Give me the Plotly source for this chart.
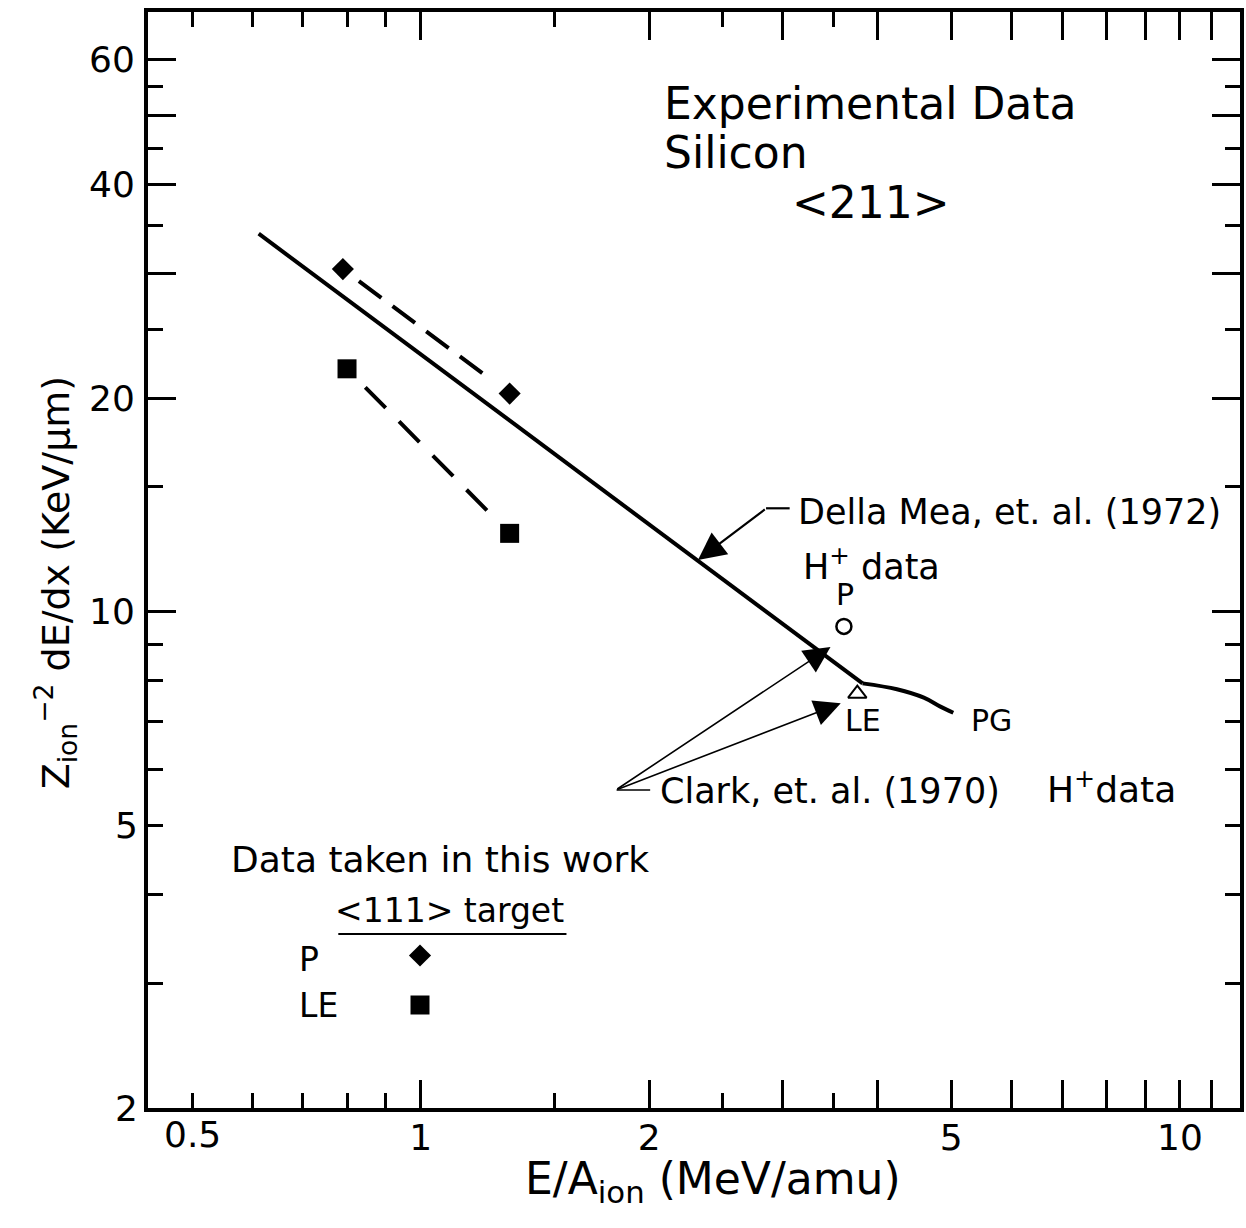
import numpy as np
import plotly.graph_objects as go

# ---- data -------------------------------------------------------------
# Della Mea et al. (1972) H+ stopping curve, <211> silicon
curve_energy = [0.612, 3.82, 4.24, 4.60, 4.83, 5.03]
curve_stopping = [34.1, 7.93, 7.78, 7.57, 7.36, 7.21]

# this work, <111> target
p_energy = [0.79, 1.31]
p_stopping = [30.4, 20.3]
le_energy = [0.80, 1.31]
le_stopping = [22.0, 12.9]

# Clark et al. (1970) H+ data
clark_p_energy = [3.61]
clark_p_stopping = [9.54]
clark_le_energy = [3.76]
clark_le_stopping = [7.67]

# axes
x_major = [1, 2, 3, 4, 5, 6, 7, 8, 9, 10, 11]
x_major_text = ["1", "2", "", "", "5", "", "", "", "", "10", ""]
x_minor = [0.5, 0.6, 0.7, 0.8, 0.9, 1.5, 2.5, 3.5]
y_major = [10, 20, 30, 40, 50, 60]
y_major_text = ["10", "20", "", "40", "", "60"]
y_minor = [3, 4, 5, 6, 7, 8, 9, 15, 25, 35, 45, 55]

# ---- page geometry ----------------------------------------------------
W, H = 1246, 1228
L, R, T, B = 148, 2, 12, 120
PW, PH = W - L - R, H - T - B
FONT = "DejaVu Sans"


def px(x):
    return (x - L) / PW


def py(y):
    return (T + PH - y) / PH


fig = go.Figure()

# straight high-energy part, then the bend towards PG
fig.add_trace(go.Scatter(
    x=curve_energy[:2], y=curve_stopping[:2], mode="lines",
    line=dict(color="black", width=4), hoverinfo="skip"))
fig.add_trace(go.Scatter(
    x=curve_energy[1:], y=curve_stopping[1:], mode="lines",
    line=dict(color="black", width=4, shape="spline", smoothing=1),
    hoverinfo="skip"))

fig.add_trace(go.Scatter(
    x=p_energy, y=p_stopping, mode="lines",
    line=dict(color="black", width=4,
              dash="0px,20px,28px,14px,28px,14px,28px,14px,28px,80px"),
    hoverinfo="skip"))
fig.add_trace(go.Scatter(
    x=le_energy, y=le_stopping, mode="lines",
    line=dict(color="black", width=4,
              dash="0px,26px,29px,19px,29px,19px,29px,19px,29px,80px"),
    hoverinfo="skip"))

fig.add_trace(go.Scatter(
    x=p_energy, y=p_stopping, mode="markers",
    marker=dict(symbol="diamond", size=17, color="black", line=dict(width=0))))
fig.add_trace(go.Scatter(
    x=le_energy, y=le_stopping, mode="markers",
    marker=dict(symbol="square", size=19, color="black", line=dict(width=0))))

fig.add_trace(go.Scatter(
    x=clark_p_energy, y=clark_p_stopping, mode="markers",
    marker=dict(symbol="circle-open", size=15, color="black",
                line=dict(width=2.5, color="black"))))
fig.add_trace(go.Scatter(
    x=clark_le_energy, y=clark_le_stopping, mode="markers",
    marker=dict(symbol="triangle-up-open", size=16, color="black",
                line=dict(width=2, color="black"))))

# key symbols for the "data taken in this work" box
fig.add_trace(go.Scatter(
    x=[px(421)], y=[py(955.5)], xaxis="x2", yaxis="y2", mode="markers",
    marker=dict(symbol="diamond", size=17, color="black", line=dict(width=0))))
fig.add_trace(go.Scatter(
    x=[px(421)], y=[py(1005)], xaxis="x2", yaxis="y2", mode="markers",
    marker=dict(symbol="square", size=19, color="black", line=dict(width=0))))

axis_common = dict(
    showline=True, linecolor="black", linewidth=4, mirror="allticks",
    ticks="inside", ticklen=28, tickwidth=2.5, tickcolor="black",
    showgrid=False, zeroline=False,
    tickfont=dict(family=FONT, size=36, color="black"),
)

fig.update_layout(
    width=W, height=H,
    margin=dict(l=L, r=R, t=T, b=B, pad=0),
    paper_bgcolor="white", plot_bgcolor="white",
    showlegend=False,
    font=dict(family=FONT, color="black"),
    xaxis=dict(
        type="log", range=[np.log10(0.4375), np.log10(12)],
        tickmode="array", tickvals=x_major, ticktext=x_major_text,
        minor=dict(tickmode="array", tickvals=x_minor, ticks="inside",
                   ticklen=15, tickwidth=2.5, tickcolor="black"),
        ticklabelstandoff=-5,
        **axis_common),
    yaxis=dict(
        type="log", range=[np.log10(2), np.log10(70)],
        tickmode="array", tickvals=y_major, ticktext=y_major_text,
        minor=dict(tickmode="array", tickvals=y_minor, ticks="inside",
                   ticklen=15, tickwidth=2.5, tickcolor="black"),
        ticklabelstandoff=2,
        **axis_common),
    xaxis2=dict(overlaying="x", range=[0, 1], visible=False),
    yaxis2=dict(overlaying="y", range=[0, 1], visible=False),
)

ann = []


def label(text, x, y, size, xanchor="left", **kw):
    ann.append(dict(text=text, x=px(x), y=py(y), xref="paper", yref="paper",
                    xanchor=xanchor, yanchor="middle", showarrow=False,
                    font=dict(family=FONT, size=size, color="black"), **kw))


# tick labels that sit on short ticks
ann.append(dict(text="0.5", x=np.log10(0.5), xref="x", y=0, yref="paper",
                xanchor="center", yanchor="top", yshift=-4, showarrow=False,
                font=dict(family=FONT, size=36, color="black")))
for v in (2, 5):
    ann.append(dict(text=str(v), x=0, xref="paper", y=np.log10(v), yref="y",
                    xanchor="right", yanchor="middle", xshift=-8,
                    showarrow=False,
                    font=dict(family=FONT, size=36, color="black")))

# axis titles
label("E/A<sub>ion</sub> (MeV/amu)", 715, 1182, 44, xanchor="center")
label("Z<sub>ion</sub><sup>−2</sup> dE/dx (KeV/μm)", 55, 582, 38,
      xanchor="center", textangle=-90)

# heading
label("Experimental Data", 664, 103, 44)
label("Silicon", 664, 152, 44)
label("&lt;211&gt;", 874, 203, 44, xanchor="center")

# reference labels
label("Della Mea, et. al. (1972)", 798, 512, 35)
label("H<sup>+</sup> data", 803, 564, 35)
label("P", 848, 594, 30, xanchor="center")
label("LE", 866, 720, 30, xanchor="center")
label("PG", 995, 720, 30, xanchor="center")
label("Clark, et. al. (1970)", 660, 791, 35)
label("H<sup>+</sup>data", 1048, 787, 36)

# key
label("Data taken in this work", 229, 860, 36)
label("&lt;111&gt; target", 334, 910, 33)
label("P", 298, 959, 33)
label("LE", 298, 1005, 33)


def arrow(tip_x, tip_y, tail_x, tail_y, width, size):
    ann.append(dict(text="", x=px(tip_x), y=py(tip_y), xref="paper",
                    yref="paper", ax=tail_x - tip_x, ay=tail_y - tip_y,
                    axref="pixel", ayref="pixel", showarrow=True,
                    arrowhead=2, arrowsize=size, arrowwidth=width,
                    arrowcolor="black", standoff=0))


arrow(700, 560, 768.3, 508.3, 2.2, 2.5)
arrow(833, 647, 618.3, 790, 1.6, 3.3)
arrow(843.3, 703.3, 618.3, 790, 1.6, 3.3)

fig.update_layout(annotations=ann)

shapes = [
    # leader stubs
    dict(type="line", xref="paper", yref="paper",
         x0=px(768.3), y0=py(508.3), x1=px(792), y1=py(508.3),
         line=dict(color="black", width=2.2)),
    dict(type="line", xref="paper", yref="paper",
         x0=px(618.3), y0=py(790), x1=px(652), y1=py(790),
         line=dict(color="black", width=1.6)),
    # key underline
    dict(type="line", xref="paper", yref="paper",
         x0=px(339), y0=py(934), x1=px(568), y1=py(934),
         line=dict(color="black", width=2.2)),
]
fig.update_layout(shapes=shapes)

fig.write_html("out.html")
